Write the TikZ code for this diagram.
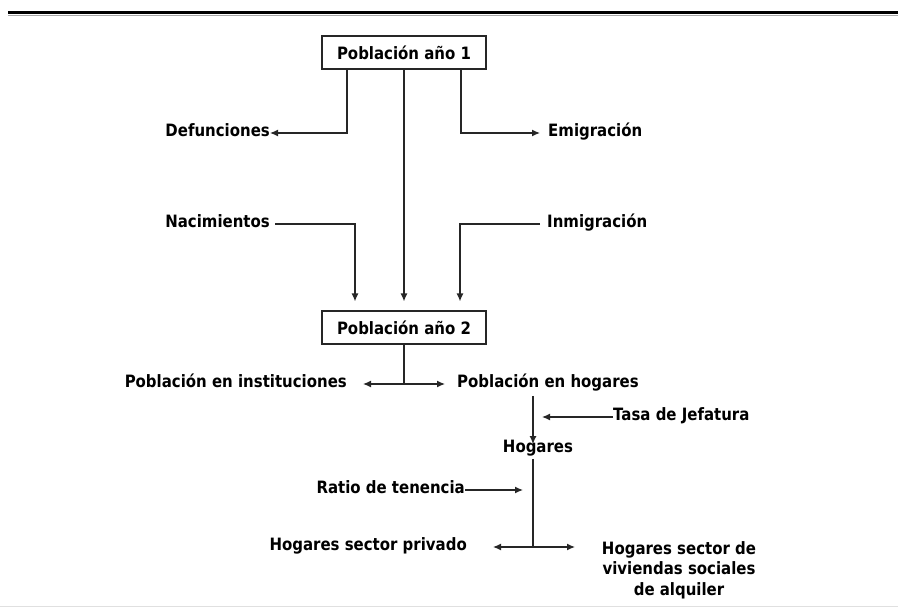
\documentclass[tikz,border=0pt]{standalone}
\usepackage{fontspec}
\setmainfont{DejaVu Sans}[FakeStretch=0.88]
\usetikzlibrary{arrows.meta,calc}
\begin{document}
\begin{tikzpicture}[x=1pt,y=1pt,
  every node/.style={font=\bfseries\fontsize{17}{20.5}\selectfont, text=black},
  lbl/.style={inner sep=0pt, text height=0.72em, text depth=0.02em},
  boxnode/.style={draw=black!85, line width=1.1pt, minimum width=164pt, minimum height=33pt, inner sep=0pt},
  conn/.style={line width=1.3pt, draw=black!85},
  arr/.style={conn, -{Latex[length=8pt,width=7pt]}}]
\useasboundingbox (0,0) rectangle (898,-607);
% top rule and faint bottom rule
\draw[line width=3.5pt] (8,-12.5) -- (898,-12.5);
\draw[black!35, line width=0.8pt] (8,-15) -- (898,-15);
\draw[black!12, line width=0.8pt] (0,-606) -- (898,-606);
% helper coordinates
\coordinate (xa) at (347,0);
\coordinate (xb) at (461,0);
\coordinate (xn) at (355,0);
\coordinate (xi) at (460,0);
\coordinate (xv) at (533,0);
\coordinate (xs) at (575,0);
% nodes
\node[boxnode] (p1) at (404,-52.5) {Población año 1};
\node[lbl, anchor=east] (def) at (270,-133) {Defunciones};
\node[lbl, anchor=west] (emi) at (548,-133) {Emigración};
\node[lbl, anchor=east] (nac) at (270,-224) {Nacimientos};
\node[lbl, anchor=west] (inm) at (547,-224) {Inmigración};
\node[boxnode] (p2) at (404,-327.5) {Población año 2};
\node[lbl, anchor=east] (inst) at (347,-384) {Población en instituciones};
\node[lbl, anchor=west] (hog) at (457,-384) {Población en hogares};
\node[lbl, anchor=west] (tasa) at (613,-417) {Tasa de Jefatura};
\node[lbl] (hh) at (538,-449) {Hogares};
\node[lbl, anchor=east] (rat) at (465,-490) {Ratio de tenencia};
\node[lbl, anchor=east] (priv) at (467,-547) {Hogares sector privado};
\node[lbl, align=center, anchor=north, text height=, text depth=] (soc) at (679,-541) {Hogares sector de\\viviendas sociales\\de alquiler};
% connectors
\draw[arr] (p1.south -| xa) |- (def.east);
\draw[arr, shorten >=8pt] (p1.south -| xb) |- (emi.west);
\draw[arr, shorten >=9pt] (p1.south) -- (p2.north);
\draw[arr, shorten <=5pt, shorten >=9pt] (nac.east) -| (p2.north -| xn);
\draw[arr, shorten <=7pt, shorten >=9pt] (inm.west) -| (p2.north -| xi);
\draw[conn] (p2.south) -- coordinate[pos=1] (j1) (p2.south |- inst);
\draw[arr, shorten >=16pt] (j1) -- (inst.east);
\draw[arr, shorten >=12pt] (j1) -- (hog.west);
\draw[arr, shorten <=8pt, shorten >=1pt] (hog.south -| xv) -- (hh.north -| xv);
\draw[arr, shorten >=9pt] (tasa.west) -- (tasa.west -| xv);
\draw[conn, line width=1.6pt, shorten <=6pt] (hh.south -| xv) -- coordinate[pos=1] (j2) (xv |- priv);
\draw[arr, shorten >=10pt] (rat.east) -- (rat.east -| xv);
\draw[arr, shorten >=26pt] (j2) -- (priv.east);
\draw[arr] (j2) -- (j2 -| xs);
\end{tikzpicture}
\end{document}
